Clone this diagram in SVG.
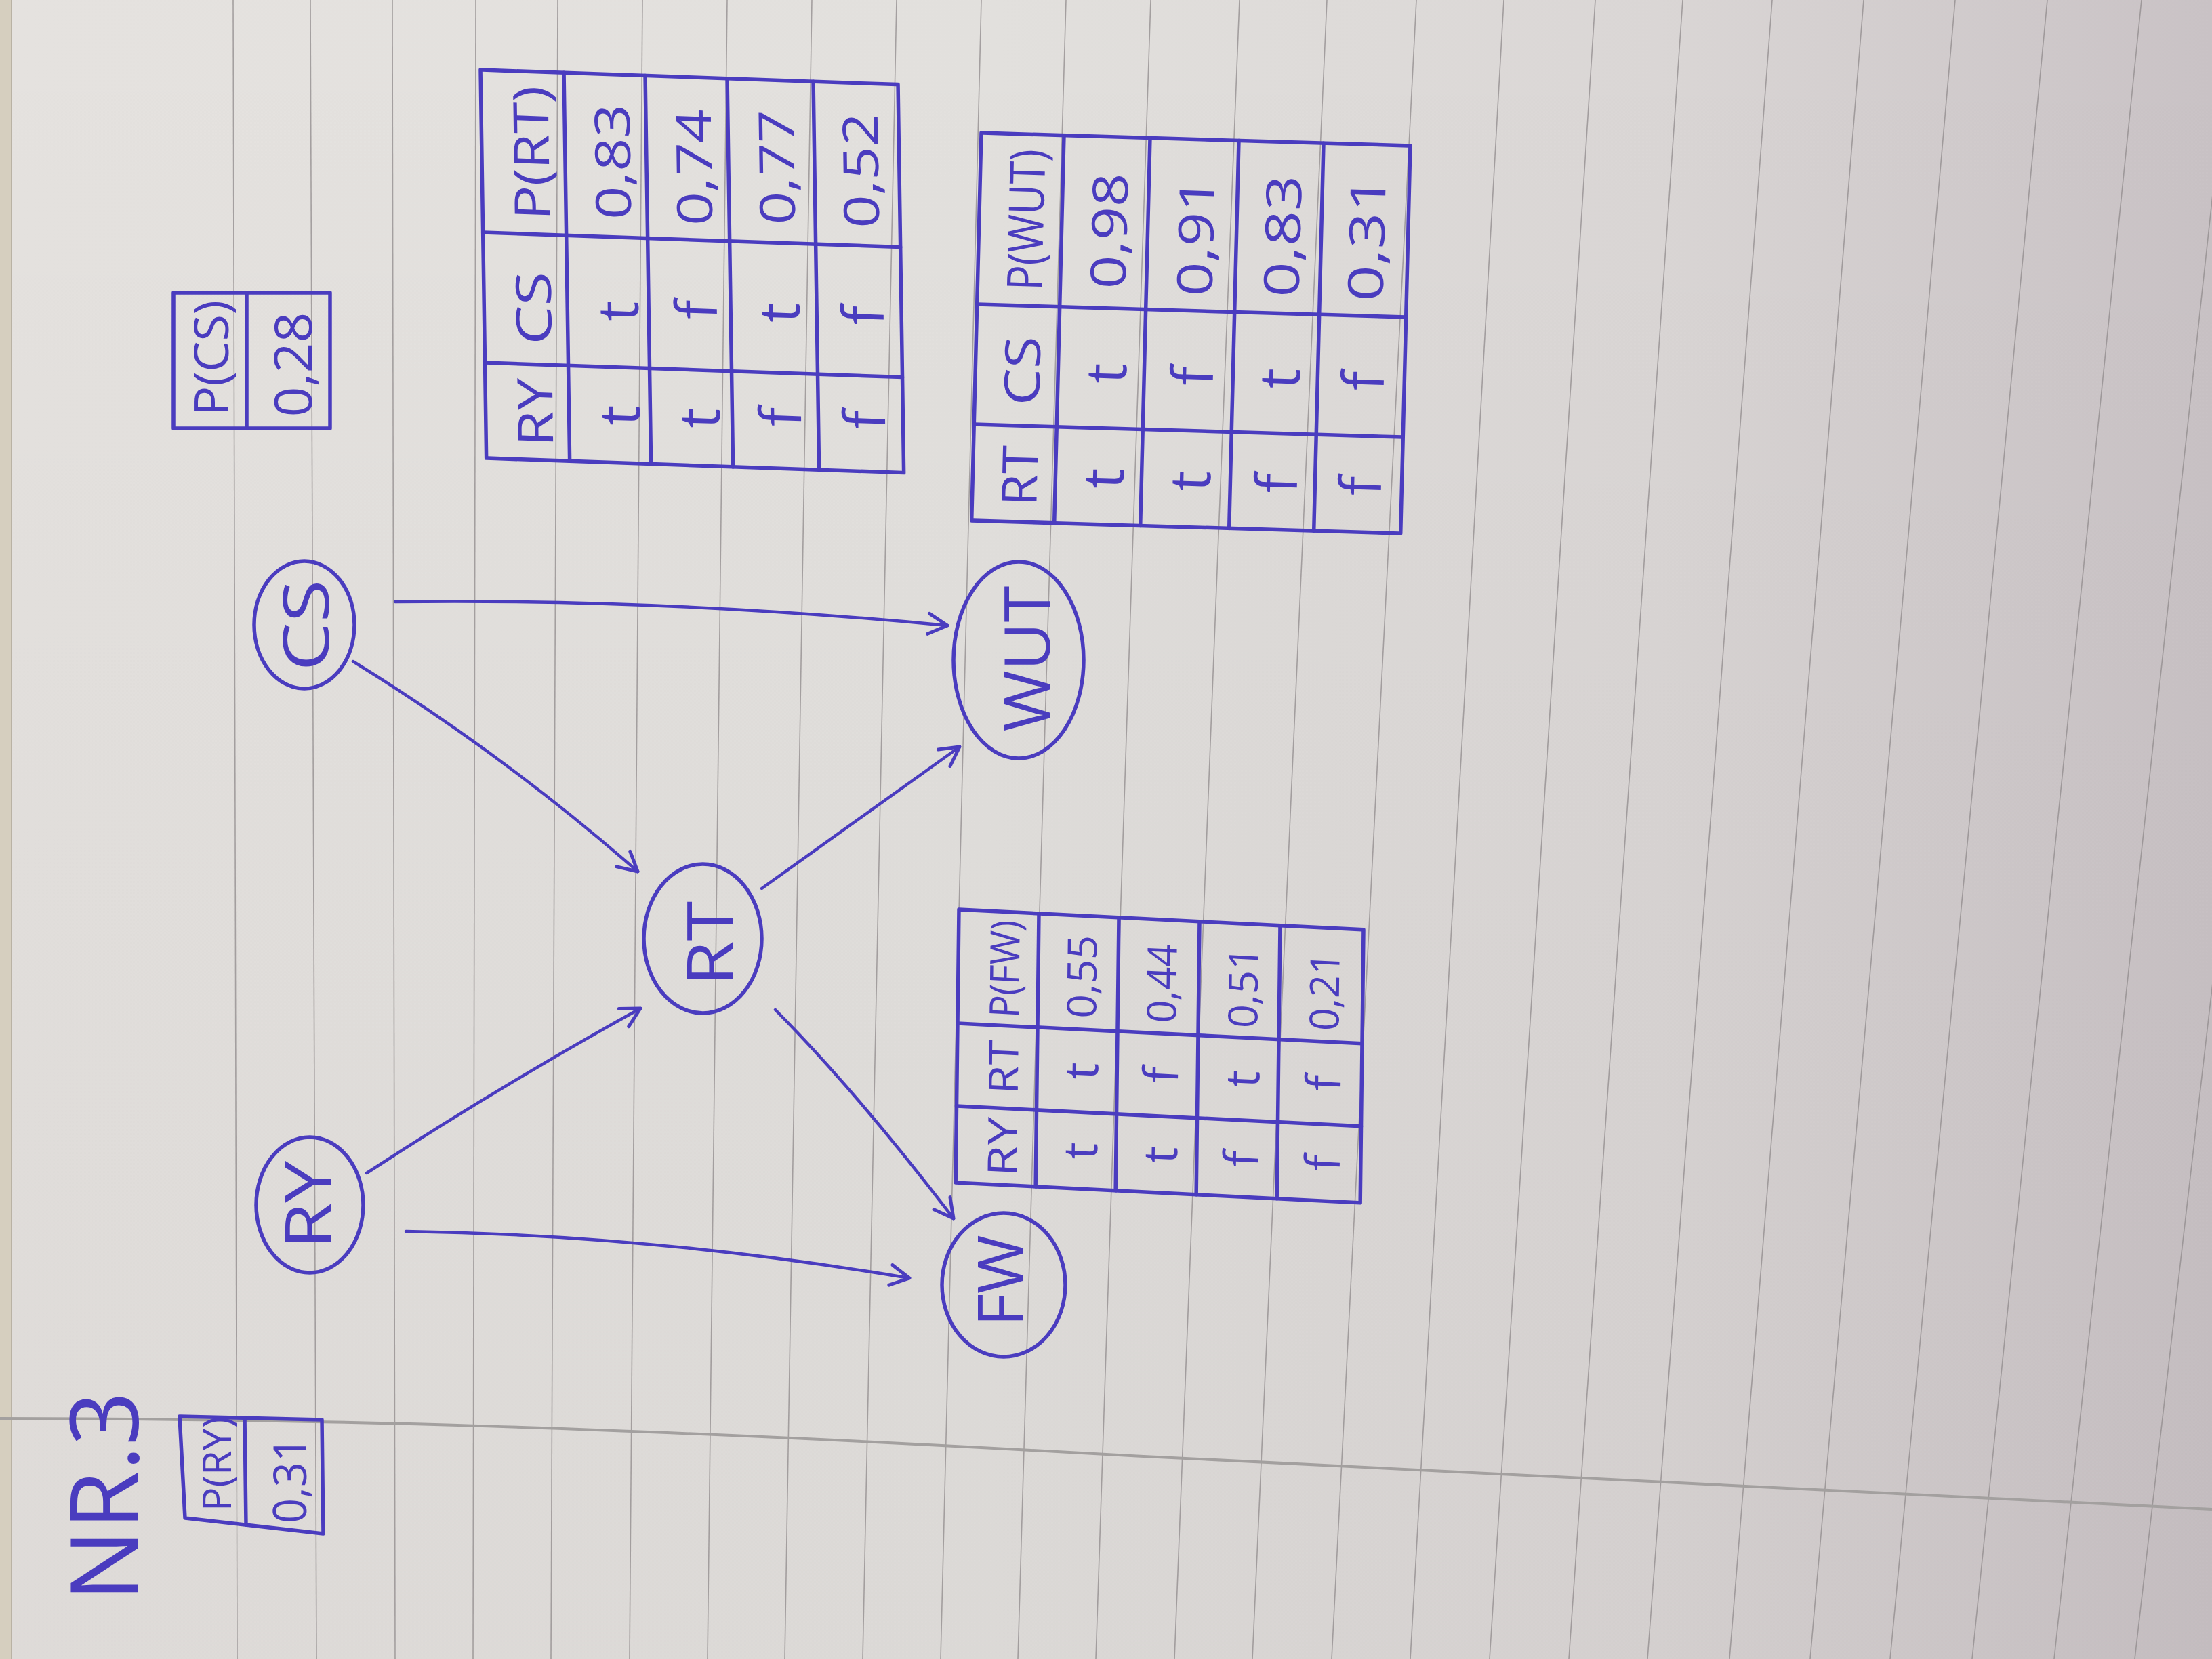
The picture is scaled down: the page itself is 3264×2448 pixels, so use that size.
<svg xmlns="http://www.w3.org/2000/svg" width="3264" height="2448" viewBox="0 0 3264 2448">
<defs>
  <linearGradient id="paper" x1="0" y1="0" x2="1" y2="0">
    <stop offset="0" stop-color="#e5e2df"/>
    <stop offset="0.45" stop-color="#e2e0dd"/>
    <stop offset="0.75" stop-color="#dad6d5"/>
    <stop offset="1" stop-color="#c9c2c5"/>
  </linearGradient>
  <linearGradient id="shade" x1="0" y1="0" x2="0" y2="1">
    <stop offset="0" stop-color="#000" stop-opacity="0"/>
    <stop offset="1" stop-color="#3a2a30" stop-opacity="0.04"/>
  </linearGradient>
  <marker id="arrow" viewBox="-34 -20 40 40" markerWidth="40" markerHeight="40" refX="0" refY="0" orient="auto" markerUnits="userSpaceOnUse">
    <path d="M-28,-15 L0,0 L-28,15" fill="none" stroke="#4a3cbf" stroke-width="5" stroke-linecap="round" stroke-linejoin="round"/>
  </marker>
  <style>
    .ln{fill:none;stroke:#4a3cbf;stroke-width:5.5;stroke-linecap:round;stroke-linejoin:round}
    .edge{fill:none;stroke:#4a3cbf;stroke-width:4.5;stroke-linecap:round}
    .rule{stroke:#8f8a8b;stroke-width:1.6;stroke-opacity:0.75}
    text{font-family:"Open Sans","Liberation Sans",sans-serif;font-weight:400;fill:#4a3cbf;text-anchor:middle;dominant-baseline:central}
    .lbl{font-size:94px}
    .t72{font-size:72px}
    .t60{font-size:60px}
    .v{font-size:84px}
    .v6{font-size:70px}
  </style>
</defs>

<g id="paper-bg">
  <rect width="3264" height="2448" fill="url(#paper)"/>
  <rect width="3264" height="2448" fill="url(#shade)"/>
  <rect x="0" y="0" width="16" height="2448" fill="#d6cfbf"/>
  <line x1="17" y1="0" x2="17" y2="2448" stroke="#b9b2a4" stroke-width="2"/>
  <g id="ruled-lines">
    <line class="rule" x1="344" y1="0" x2="350" y2="2448"/>
    <line class="rule" x1="458" y1="0" x2="467" y2="2448"/>
    <line class="rule" x1="579" y1="0" x2="583" y2="2448"/>
    <line class="rule" x1="702" y1="0" x2="698" y2="2448"/>
    <line class="rule" x1="823" y1="0" x2="813" y2="2448"/>
    <line class="rule" x1="948" y1="0" x2="929" y2="2448"/>
    <line class="rule" x1="1073" y1="0" x2="1044" y2="2448"/>
    <line class="rule" x1="1198" y1="0" x2="1158" y2="2448"/>
    <line class="rule" x1="1323" y1="0" x2="1273" y2="2448"/>
    <line class="rule" x1="1448" y1="0" x2="1388" y2="2448"/>
    <line class="rule" x1="1573" y1="0" x2="1502" y2="2448"/>
    <line class="rule" x1="1698" y1="0" x2="1617" y2="2448"/>
    <line class="rule" x1="1829" y1="0" x2="1733" y2="2448"/>
    <line class="rule" x1="1958" y1="0" x2="1848" y2="2448"/>
    <line class="rule" x1="2090" y1="0" x2="1965" y2="2448"/>
    <line class="rule" x1="2219" y1="0" x2="2081" y2="2448"/>
    <line class="rule" x1="2354" y1="0" x2="2198" y2="2448"/>
    <line class="rule" x1="2483" y1="0" x2="2315" y2="2448"/>
    <line class="rule" x1="2615" y1="0" x2="2431" y2="2448"/>
    <line class="rule" x1="2750" y1="0" x2="2552" y2="2448"/>
    <line class="rule" x1="2885" y1="0" x2="2671" y2="2448"/>
    <line class="rule" x1="3021" y1="0" x2="2789" y2="2448"/>
    <line class="rule" x1="3160" y1="0" x2="2910" y2="2448"/>
    <line class="rule" x1="3296" y1="0" x2="3031" y2="2448"/>
    <line class="rule" x1="3432" y1="0" x2="3150" y2="2448"/>
  </g>
  <path d="M0,2093 C500,2094 900,2106 1560,2142 S2900,2214 3264,2227" fill="none" stroke="#a3a09f" stroke-width="4"/>
</g>

<g id="title">
  <text transform="translate(149,2208) rotate(-90)" style="font-size:140px" textLength="310" lengthAdjust="spacingAndGlyphs">NR.3</text>
</g>

<g id="table-P-RY">
  <polygon class="ln" points="265,2090 475,2095 477,2263 273,2240"/>
  <line class="ln" x1="361" y1="2092" x2="363" y2="2250"/>
  <text transform="translate(318,2160) rotate(-90)" style="font-size:58px" textLength="140" lengthAdjust="spacingAndGlyphs">P(RY)</text>
  <text transform="translate(425,2184) rotate(-90)" style="font-size:68px" textLength="128" lengthAdjust="spacingAndGlyphs">0,31</text>
</g>

<g id="table-P-CS">
  <rect class="ln" x="256" y="432" width="231" height="200"/>
  <line class="ln" x1="364" y1="432" x2="364" y2="632"/>
  <text transform="translate(310,528) rotate(-90)" style="font-size:70px" textLength="170" lengthAdjust="spacingAndGlyphs">P(CS)</text>
  <text transform="translate(430,538) rotate(-90)" style="font-size:76px" textLength="155" lengthAdjust="spacingAndGlyphs">0,28</text>
</g>

<g id="table-P-RT" transform="matrix(1,0.035,0.015,1,-1.5,-24.8)">
  <rect class="ln" x="709" y="103" width="616" height="573"/>
  <line class="ln" x1="832" y1="103" x2="832" y2="676"/>
  <line class="ln" x1="952" y1="103" x2="952" y2="676"/>
  <line class="ln" x1="1073" y1="103" x2="1073" y2="676"/>
  <line class="ln" x1="1200" y1="103" x2="1200" y2="676"/>
  <line class="ln" x1="709" y1="343" x2="1325" y2="343"/>
  <line class="ln" x1="709" y1="535" x2="1325" y2="535"/>
  <g class="t72">
    <text transform="translate(780,223) rotate(-90)" textLength="198" lengthAdjust="spacingAndGlyphs">P(RT)</text>
    <text transform="translate(780,452) rotate(-90)" textLength="108" lengthAdjust="spacingAndGlyphs">CS</text>
    <text transform="translate(780,606) rotate(-90)" textLength="100" lengthAdjust="spacingAndGlyphs">RY</text>
    <text transform="translate(900,232) rotate(-90)" textLength="170" lengthAdjust="spacingAndGlyphs">0,83</text>
    <text transform="translate(1020,236) rotate(-90)" textLength="172" lengthAdjust="spacingAndGlyphs">0,74</text>
    <text transform="translate(1142,232) rotate(-90)" textLength="168" lengthAdjust="spacingAndGlyphs">0,77</text>
    <text transform="translate(1266,232) rotate(-90)" textLength="170" lengthAdjust="spacingAndGlyphs">0,52</text>
  </g>
  <g class="v">
    <text transform="translate(904,452) rotate(-90)">t</text>
    <text transform="translate(904,606) rotate(-90)">t</text>
    <text transform="translate(1020,446) rotate(-90)">f</text>
    <text transform="translate(1022,606) rotate(-90)">t</text>
    <text transform="translate(1142,446) rotate(-90)">t</text>
    <text transform="translate(1142,600) rotate(-90)">f</text>
    <text transform="translate(1266,446) rotate(-90)">f</text>
    <text transform="translate(1266,600) rotate(-90)">f</text>
  </g>
</g>

<g id="table-P-WUT" transform="matrix(1,0.03,-0.025,1,4.9,-43.4)">
  <rect class="ln" x="1448" y="196" width="633" height="572"/>
  <line class="ln" x1="1570" y1="196" x2="1570" y2="768"/>
  <line class="ln" x1="1697" y1="196" x2="1697" y2="768"/>
  <line class="ln" x1="1828" y1="196" x2="1828" y2="768"/>
  <line class="ln" x1="1953" y1="196" x2="1953" y2="768"/>
  <line class="ln" x1="1448" y1="449" x2="2081" y2="449"/>
  <line class="ln" x1="1448" y1="626" x2="2081" y2="626"/>
  <g class="t72">
    <text transform="translate(1515,322) rotate(-90)" textLength="208" lengthAdjust="spacingAndGlyphs">P(WUT)</text>
    <text transform="translate(1515,545) rotate(-90)" textLength="102" lengthAdjust="spacingAndGlyphs">CS</text>
    <text transform="translate(1515,700) rotate(-90)" textLength="89" lengthAdjust="spacingAndGlyphs">RT</text>
    <text transform="translate(1638,335) rotate(-90)" textLength="171" lengthAdjust="spacingAndGlyphs">0,98</text>
    <text transform="translate(1766,340) rotate(-90)" textLength="175" lengthAdjust="spacingAndGlyphs">0,91</text>
    <text transform="translate(1894,335) rotate(-90)" textLength="180" lengthAdjust="spacingAndGlyphs">0,83</text>
    <text transform="translate(2018,335) rotate(-90)" textLength="185" lengthAdjust="spacingAndGlyphs">0,31</text>
  </g>
  <g class="v">
    <text transform="translate(1638,545) rotate(-90)">t</text>
    <text transform="translate(1638,700) rotate(-90)">t</text>
    <text transform="translate(1766,545) rotate(-90)">f</text>
    <text transform="translate(1766,700) rotate(-90)">t</text>
    <text transform="translate(1894,545) rotate(-90)">t</text>
    <text transform="translate(1894,700) rotate(-90)">f</text>
    <text transform="translate(2018,545) rotate(-90)">f</text>
    <text transform="translate(2018,700) rotate(-90)">f</text>
  </g>
</g>

<g id="table-P-FW" transform="matrix(1,0.05,-0.012,1,16.1,-70.75)">
  <rect class="ln" x="1415" y="1342" width="597" height="403"/>
  <line class="ln" x1="1533" y1="1342" x2="1533" y2="1745"/>
  <line class="ln" x1="1651" y1="1342" x2="1651" y2="1745"/>
  <line class="ln" x1="1770" y1="1342" x2="1770" y2="1745"/>
  <line class="ln" x1="1889" y1="1342" x2="1889" y2="1745"/>
  <line class="ln" x1="1415" y1="1510" x2="2012" y2="1510"/>
  <line class="ln" x1="1415" y1="1632" x2="2012" y2="1632"/>
  <g class="t60">
    <text transform="translate(1482,1426) rotate(-90)" textLength="144" lengthAdjust="spacingAndGlyphs">P(FW)</text>
    <text transform="translate(1482,1571) rotate(-90)" textLength="80" lengthAdjust="spacingAndGlyphs">RT</text>
    <text transform="translate(1482,1689) rotate(-90)" textLength="87" lengthAdjust="spacingAndGlyphs">RY</text>
    <text transform="translate(1596,1432) rotate(-90)" textLength="123" lengthAdjust="spacingAndGlyphs">0,55</text>
    <text transform="translate(1714,1436) rotate(-90)" textLength="117" lengthAdjust="spacingAndGlyphs">0,44</text>
    <text transform="translate(1834,1436) rotate(-90)" textLength="120" lengthAdjust="spacingAndGlyphs">0,51</text>
    <text transform="translate(1954,1436) rotate(-90)" textLength="116" lengthAdjust="spacingAndGlyphs">0,21</text>
  </g>
  <g class="v6">
    <text transform="translate(1596,1571) rotate(-90)">t</text>
    <text transform="translate(1596,1689) rotate(-90)">t</text>
    <text transform="translate(1714,1571) rotate(-90)">f</text>
    <text transform="translate(1714,1689) rotate(-90)">t</text>
    <text transform="translate(1834,1571) rotate(-90)">t</text>
    <text transform="translate(1834,1689) rotate(-90)">f</text>
    <text transform="translate(1954,1571) rotate(-90)">f</text>
    <text transform="translate(1954,1689) rotate(-90)">f</text>
  </g>
</g>

<g id="connectors">
  <path class="edge" d="M583,888 Q976,883 1398,923" marker-end="url(#arrow)"/>
  <path class="edge" d="M521,976 Q742,1112 941,1286" marker-end="url(#arrow)"/>
  <path class="edge" d="M541,1731 Q742,1600 945,1488" marker-end="url(#arrow)"/>
  <path class="edge" d="M1124,1311 L1416,1102" marker-end="url(#arrow)"/>
  <path class="edge" d="M1144,1490 Q1265,1612 1407,1798" marker-end="url(#arrow)"/>
  <path class="edge" d="M599,1817 Q962,1822 1342,1886" marker-end="url(#arrow)"/>
</g>

<g id="node-CS">
  <ellipse class="ln" cx="449" cy="922" rx="74" ry="94"/>
  <text class="lbl" transform="translate(449,923) rotate(-90)" textLength="135" lengthAdjust="spacingAndGlyphs">CS</text>
</g>
<g id="node-RY">
  <ellipse class="ln" cx="457" cy="1778" rx="79" ry="100"/>
  <text class="lbl" transform="translate(452,1778) rotate(-90)" textLength="130" lengthAdjust="spacingAndGlyphs">RY</text>
</g>
<g id="node-RT">
  <ellipse class="ln" cx="1037" cy="1385" rx="87" ry="110"/>
  <text class="lbl" transform="translate(1045,1392) rotate(-90)" textLength="125" lengthAdjust="spacingAndGlyphs">RT</text>
</g>
<g id="node-WUT">
  <ellipse class="ln" cx="1503" cy="974" rx="96" ry="145"/>
  <text class="lbl" transform="translate(1513,972) rotate(-90)" textLength="215" lengthAdjust="spacingAndGlyphs">WUT</text>
</g>
<g id="node-FW">
  <ellipse class="ln" cx="1481" cy="1896" rx="91" ry="106"/>
  <text class="lbl" transform="translate(1474,1890) rotate(-90)" textLength="135" lengthAdjust="spacingAndGlyphs">FW</text>
</g>
</svg>
